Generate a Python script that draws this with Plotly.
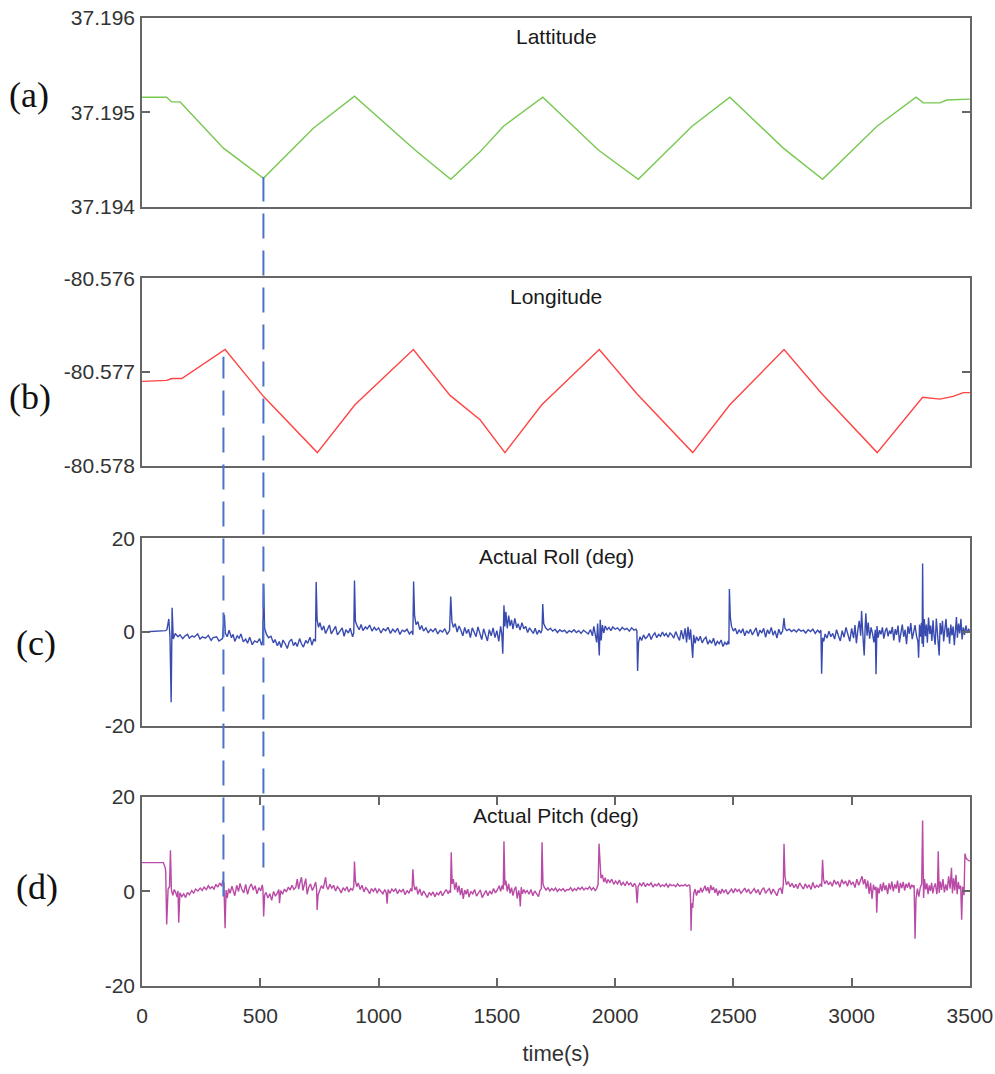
import plotly.graph_objects as go

# ---------------- data ----------------
lat_t = [0, 104, 125, 161, 344, 513, 724, 898, 1154, 1305, 1429, 1527, 1694, 1929, 2098,
         2324, 2485, 2711, 2877, 3106, 3272, 3303, 3373, 3402, 3500]
lat_v = [37.19516, 37.19516, 37.19511, 37.19511, 37.19462, 37.19430, 37.19483, 37.19517,
         37.19460, 37.19429, 37.19458, 37.19485, 37.19516, 37.19460, 37.19429, 37.19485,
         37.19516, 37.19462, 37.19429, 37.19485, 37.19516, 37.19510, 37.19510, 37.19513,
         37.19514]

lon_t = [0, 104, 125, 168, 351, 513, 741, 900, 1147, 1302, 1429, 1534, 1690, 1933, 2091,
         2328, 2485, 2714, 2873, 3108, 3300, 3373, 3429, 3472, 3500]
lon_v = [-80.57710, -80.57709, -80.57707, -80.57707, -80.57676, -80.57726, -80.57786,
         -80.57735, -80.57676, -80.57725, -80.57751, -80.57786, -80.57735, -80.57676,
         -80.57723, -80.57786, -80.57735, -80.57676, -80.57723, -80.57786, -80.57727,
         -80.57729, -80.57726, -80.57722, -80.57722]

# (time, roll deg) samples
roll_pts = [
    (0, 0.0), (100, 0.3), (105, 0.5), (113, 2.8), (118, -1.0), (123, -15.0), (127, 5.2),
    (132, -1.5), (140, -0.3), (152, -1.0), (160, -0.6), (172, -1.4), (180, -0.9), (192, -0.5),
    (200, -1.3), (212, -0.8), (220, -1.1), (235, -0.4), (245, -1.5), (255, -1.0), (268, -1.3),
    (280, -0.7), (292, -1.8), (300, -1.2), (315, -1.0), (325, -1.9), (340, -1.4), (348, 3.7),
    (352, -0.2), (360, -1.0), (368, 0.4), (378, -1.2), (385, -0.5), (392, -2.0), (402, -0.8),
    (410, -1.3), (418, -0.4), (428, -2.1), (438, -1.5), (446, -2.4), (455, -1.1), (466, -2.7),
    (476, -1.9), (487, -2.2), (497, -1.4), (505, -2.8), (510, -2.0), (514, 10.2), (518, 0.8),
    (526, -0.5), (535, -1.2), (545, -0.9), (555, -2.3), (562, -1.6), (572, -2.9), (580, -2.0),
    (588, -3.3), (596, -1.7), (606, -2.6), (614, -3.5), (622, -2.1), (632, -1.5), (640, -2.9),
    (648, -2.2), (656, -3.1), (666, -1.4), (674, -2.5), (682, -3.2), (692, -1.8), (700, -2.4),
    (710, -1.1), (718, -2.8), (726, -1.5), (733, -2.0), (736, 10.7), (740, 2.6), (746, 1.0),
    (752, 2.0), (760, 0.4), (768, 1.3), (776, -0.3), (784, 0.8), (792, 1.5), (800, -0.4),
    (810, 0.6), (818, 1.2), (826, -0.6), (836, 0.2), (846, 0.9), (854, -0.9), (862, 0.5),
    (872, -0.2), (880, 0.8), (890, -1.0), (895, -0.2), (898, 11.0), (902, 2.3), (910, 1.2),
    (918, 0.5), (926, 1.6), (934, 0.3), (944, 1.1), (952, 0.7), (962, 1.5), (972, 0.2),
    (982, 1.0), (990, 0.4), (1000, 0.9), (1010, -0.2), (1020, 0.7), (1030, 0.3), (1040, 1.0),
    (1050, -0.3), (1060, 0.6), (1070, 0.0), (1080, 0.8), (1090, -0.5), (1100, 0.4), (1110, 0.1),
    (1120, 0.6), (1130, -0.4), (1140, 0.2), (1145, -0.6), (1148, 10.8), (1152, 3.6), (1158, 1.6),
    (1166, 2.2), (1174, 0.5), (1182, 1.4), (1190, 0.2), (1200, 0.9), (1210, -0.2), (1220, 0.6),
    (1230, 0.1), (1240, 0.8), (1250, -0.4), (1260, 0.4), (1270, 0.0), (1280, 0.7), (1290, -0.5),
    (1300, 0.3), (1305, 7.6), (1310, 2.2), (1316, 1.0), (1324, 1.8), (1332, 0.0), (1340, 1.3),
    (1348, 0.4), (1356, -0.8), (1364, 1.0), (1372, -0.3), (1380, 0.6), (1388, -1.2), (1396, 0.9),
    (1404, 0.0), (1412, -1.0), (1420, 1.1), (1428, -0.5), (1436, -1.6), (1444, 0.7), (1452, -0.4),
    (1460, -1.9), (1468, 0.5), (1476, -0.8), (1484, 0.9), (1492, -1.2), (1500, 0.3), (1508, -2.0),
    (1516, 1.2), (1521, -0.5), (1525, -4.6), (1530, 5.7), (1534, 1.2), (1538, 4.3), (1544, 0.8),
    (1550, 3.5), (1556, 1.3), (1562, 2.6), (1568, 0.6), (1576, 2.9), (1584, 0.9), (1590, 1.8),
    (1598, 0.4), (1606, 2.0), (1614, 0.7), (1622, 1.2), (1630, -0.1), (1638, 0.9), (1646, 0.3),
    (1654, -0.3), (1662, 0.8), (1670, -0.5), (1678, 0.4), (1686, -0.2), (1691, 0.5), (1694, 6.0),
    (1698, 1.8), (1706, 0.9), (1716, 0.4), (1726, 0.8), (1736, 0.2), (1746, 0.6), (1756, -0.1),
    (1766, 0.5), (1776, 0.1), (1786, 0.4), (1796, -0.2), (1806, 0.3), (1816, 0.0), (1826, 0.5),
    (1836, -0.1), (1846, 0.3), (1856, -0.3), (1866, 0.4), (1876, 0.0), (1886, -0.4), (1896, 0.5),
    (1904, -0.8), (1910, 1.2), (1916, -0.6), (1922, -2.2), (1926, 1.8), (1930, -1.0),
    (1933, -5.0), (1937, 2.6), (1941, -1.8), (1946, 1.5), (1952, -0.2), (1958, 1.3), (1966, 0.5),
    (1974, 1.0), (1982, 0.3), (1990, 1.1), (2000, 0.6), (2010, 0.9), (2020, 0.3), (2030, 1.0),
    (2040, 0.5), (2050, 0.8), (2060, 0.2), (2070, 0.9), (2080, 0.4), (2088, 0.6), (2092, 0.2),
    (2095, -8.3), (2099, -2.2), (2105, -1.0), (2112, -1.8), (2120, -0.6), (2128, -1.4),
    (2136, -1.0), (2144, -0.3), (2152, -1.6), (2160, -0.7), (2168, -0.2), (2176, -1.2),
    (2184, -0.5), (2192, -0.9), (2200, 0.0), (2208, -0.8), (2216, -0.3), (2224, -1.1),
    (2232, -0.2), (2240, -0.6), (2248, -1.3), (2256, 0.1), (2264, -0.9), (2272, -1.8),
    (2280, 0.4), (2288, -1.5), (2296, 0.8), (2302, -2.2), (2308, 1.1), (2314, -1.6), (2319, 0.6),
    (2324, -2.0), (2328, -5.5), (2332, -0.6), (2338, -2.4), (2344, -1.0), (2352, -1.9),
    (2360, -0.9), (2368, -2.3), (2376, -1.5), (2384, -1.1), (2392, -2.6), (2400, -1.8),
    (2408, -2.4), (2416, -1.3), (2424, -2.9), (2432, -2.0), (2440, -2.5), (2448, -1.7),
    (2456, -3.1), (2464, -2.2), (2472, -2.7), (2478, -1.9), (2481, -2.6), (2483, 9.2),
    (2487, 3.2), (2492, 1.2), (2500, 0.2), (2508, 0.8), (2516, -0.4), (2524, 0.5), (2532, -0.2),
    (2540, 0.7), (2548, -0.8), (2556, 0.3), (2564, -0.3), (2572, 0.6), (2580, -0.6), (2588, 0.2),
    (2596, 0.9), (2604, -0.9), (2612, 0.4), (2620, -0.2), (2628, 0.8), (2636, -1.1), (2644, 0.5),
    (2652, -0.4), (2660, 1.0), (2668, -0.7), (2676, 0.3), (2684, -1.3), (2692, 0.6), (2700, -0.5),
    (2708, 0.2), (2714, 3.0), (2718, 0.8), (2726, 0.3), (2736, 0.6), (2746, 0.1), (2756, 0.5),
    (2766, 0.0), (2776, 0.6), (2786, 0.2), (2796, 0.4), (2806, -0.2), (2816, 0.5), (2826, 0.1),
    (2836, 0.6), (2846, -0.3), (2856, 0.4), (2864, -0.1), (2870, 0.4), (2873, -8.9), (2877, -1.2),
    (2882, -2.0), (2888, -0.4), (2896, -1.3), (2904, 0.2), (2912, -1.0), (2920, -0.3),
    (2928, -1.5), (2936, 0.5), (2944, -0.8), (2952, -1.9), (2960, 0.3), (2968, -1.1), (2976, 1.0),
    (2984, -0.6), (2992, -2.0), (3000, 0.8), (3008, -1.3), (3014, 1.5), (3020, -2.4), (3026, 0.4),
    (3032, 2.4), (3038, -0.8), (3042, 4.5), (3046, 0.5), (3050, -2.2), (3053, -5.0), (3057, 1.0),
    (3060, 4.0), (3065, -0.8), (3070, 2.0), (3076, -1.4), (3082, 1.0), (3088, -0.3), (3094, -2.2),
    (3100, 0.5), (3103, -9.0), (3107, 1.3), (3112, -1.2), (3118, 0.4), (3124, -0.5), (3130, 1.0),
    (3136, -1.4), (3142, 0.2), (3148, 0.9), (3154, -0.9), (3160, 0.3), (3166, -0.4), (3172, 1.1),
    (3178, -1.8), (3184, 0.6), (3190, -0.6), (3196, 1.4), (3202, -2.2), (3208, 0.2), (3214, 1.6),
    (3220, -1.0), (3226, 0.5), (3232, -2.6), (3238, 1.2), (3244, -0.4), (3250, 1.9), (3256, -1.5),
    (3262, 0.3), (3268, 1.5), (3274, -0.8), (3280, -2.0), (3283, -5.5), (3287, 1.6), (3291, -1.0),
    (3295, 2.0), (3298, -2.5), (3300, 14.6), (3303, -3.2), (3307, 2.8), (3312, -0.9), (3316, 1.6),
    (3320, -2.3), (3325, 3.1), (3330, -0.4), (3334, 1.4), (3339, -1.9), (3344, 2.5), (3348, -0.6),
    (3353, -2.7), (3358, 2.9), (3362, 0.2), (3366, -1.4), (3370, -5.0), (3374, 1.9), (3379, -0.5),
    (3384, 2.4), (3389, -2.0), (3394, 0.6), (3399, 2.8), (3404, -1.1), (3409, 0.9), (3414, -2.5),
    (3419, 1.6), (3424, -0.7), (3429, 1.2), (3434, -2.8), (3439, 0.5), (3443, 3.2), (3447, -1.2),
    (3452, 1.8), (3457, -0.3), (3462, 2.8), (3467, -1.6), (3472, 1.0), (3477, -0.6), (3483, 1.4),
    (3489, -0.2), (3495, 0.6), (3500, 0.3),
]

# (time, pitch deg) samples
pitch_pts = [
    (0, 6.1), (90, 6.1), (98, 5.0), (100, 4.2), (104, -7.0), (110, 0.5), (116, 1.0), (120, 8.7),
    (124, 0.3), (130, -0.8), (136, 0.4), (142, -0.2), (148, -1.2), (152, 0.1), (155, -6.6),
    (160, -0.3), (168, -1.1), (176, -0.5), (184, -1.3), (192, -0.2), (200, -0.7), (210, 0.2),
    (218, -0.4), (226, 0.5), (236, 0.1), (246, 0.7), (254, 0.2), (262, 0.9), (272, 0.4),
    (280, 1.2), (288, 0.6), (296, 1.0), (304, 0.5), (312, 1.5), (320, 0.9), (328, 1.8),
    (336, 1.1), (342, 2.4), (346, 1.6), (351, -7.8), (355, 0.3), (360, -1.4), (366, 0.6),
    (372, -0.4), (380, 1.1), (386, 0.2), (392, -0.9), (400, 1.3), (408, 0.0), (414, 1.7),
    (422, 0.4), (430, -0.3), (438, 1.5), (446, -0.6), (454, 0.9), (462, 1.6), (470, 0.3),
    (478, 1.2), (486, -0.5), (494, 0.8), (502, 0.1), (508, 1.4), (511, 0.5), (514, -5.3),
    (518, -0.8), (524, -0.2), (532, -1.4), (540, -0.5), (548, -1.9), (556, 0.0), (564, -1.0),
    (572, -0.3), (578, 0.4), (581, -2.5), (586, 0.2), (594, -0.6), (602, 0.5), (610, -0.1),
    (618, 0.9), (626, 0.3), (634, 1.3), (642, 0.4), (650, 0.9), (656, 2.6), (662, 0.5),
    (668, 1.9), (674, 3.0), (680, 0.2), (686, 1.4), (692, 2.7), (698, -0.6), (704, 0.8),
    (712, 1.6), (720, 0.2), (728, 1.1), (734, 2.0), (738, 0.4), (740, -3.9), (744, -0.8),
    (750, 0.3), (758, 1.2), (766, 0.6), (772, 2.2), (776, 3.0), (780, 1.1), (786, 0.4),
    (794, 1.5), (802, 0.7), (810, 1.3), (818, 0.1), (826, 1.0), (834, 0.5), (842, -0.3),
    (850, 0.8), (858, 0.2), (866, 1.0), (874, -0.1), (882, 0.6), (890, 0.3), (895, 1.0),
    (898, 6.3), (902, 2.2), (908, 1.0), (914, 1.8), (922, 0.4), (930, 1.3), (938, -0.1),
    (946, 0.8), (954, 0.3), (962, -0.5), (970, 0.6), (978, 0.0), (986, 0.7), (994, -0.4),
    (1002, 0.5), (1010, 0.1), (1018, -0.5), (1026, 0.4), (1032, -0.2), (1036, -2.6), (1040, 0.4),
    (1048, -0.4), (1056, 0.5), (1064, 0.0), (1072, 0.6), (1080, -0.5), (1088, 0.3), (1096, -0.1),
    (1104, 0.5), (1112, -0.7), (1120, 0.2), (1128, -0.4), (1136, 0.6), (1141, 0.0), (1145, 4.7),
    (1149, 1.4), (1154, 0.3), (1160, 1.0), (1166, -0.6), (1174, 0.5), (1182, -0.9), (1190, 0.1),
    (1198, -0.6), (1206, -1.3), (1214, -0.2), (1222, -0.8), (1230, -0.1), (1238, -1.1),
    (1246, -0.3), (1254, -0.7), (1262, 0.1), (1270, -0.9), (1278, -0.2), (1286, 0.4),
    (1294, -0.5), (1300, 0.2), (1304, -0.3), (1307, 8.3), (1311, 1.6), (1316, 2.6), (1322, 0.4),
    (1328, 1.9), (1334, -0.2), (1340, 1.2), (1346, -0.8), (1352, 0.7), (1358, -1.6), (1364, 0.3),
    (1370, -0.6), (1376, 0.5), (1382, -1.2), (1390, 0.0), (1398, -0.5), (1406, 0.4), (1414, -1.0),
    (1422, -0.2), (1430, 0.3), (1438, -1.3), (1446, -0.4), (1454, 0.2), (1462, -0.9), (1470, 0.1),
    (1478, -0.6), (1486, 0.6), (1494, -0.3), (1502, 0.3), (1510, 1.2), (1516, 0.0), (1522, 1.3),
    (1527, 0.4), (1530, 10.6), (1534, 1.3), (1538, 2.3), (1544, 0.0), (1550, 1.6), (1556, -0.4),
    (1562, 0.8), (1568, -0.9), (1574, 0.4), (1580, 1.0), (1586, -1.5), (1592, 0.2), (1596, -0.8),
    (1599, -3.2), (1603, 0.9), (1608, -0.5), (1614, 0.4), (1620, -0.3), (1628, 0.2), (1636, -0.6),
    (1644, 0.4), (1652, -0.9), (1660, 0.1), (1668, -0.4), (1676, -1.1), (1682, 0.2), (1688, 0.6),
    (1691, 10.4), (1695, 1.6), (1700, 0.9), (1708, 0.3), (1716, 0.8), (1724, 0.1), (1732, 0.6),
    (1740, 0.2), (1748, 0.7), (1756, 0.0), (1764, 0.5), (1772, 0.2), (1780, 0.6), (1788, 0.0),
    (1796, 0.4), (1804, 0.3), (1812, 0.8), (1820, 0.1), (1828, 0.6), (1836, 0.2), (1844, 0.8),
    (1852, 0.4), (1860, 0.9), (1868, 0.3), (1876, 0.7), (1884, 0.5), (1892, 1.0), (1900, 0.3),
    (1908, 0.8), (1916, 0.2), (1922, 0.6), (1928, 1.5), (1932, 10.1), (1936, 4.6), (1940, 2.8),
    (1946, 3.5), (1952, 2.0), (1958, 2.9), (1964, 1.7), (1970, 2.5), (1978, 1.9), (1986, 2.6),
    (1994, 1.5), (2002, 2.2), (2010, 1.6), (2018, 2.4), (2026, 1.3), (2034, 1.9), (2042, 1.2),
    (2050, 2.1), (2058, 1.4), (2066, 1.8), (2074, 1.0), (2082, 1.7), (2088, 1.1), (2093, -2.5),
    (2097, 1.0), (2104, 1.7), (2112, 1.2), (2120, 1.9), (2128, 1.0), (2136, 1.6), (2144, 1.3),
    (2152, 1.8), (2160, 0.9), (2168, 1.5), (2176, 1.2), (2184, 1.7), (2192, 1.0), (2200, 1.4),
    (2208, 1.1), (2216, 1.6), (2224, 0.9), (2232, 1.5), (2240, 1.2), (2248, 1.4), (2256, 1.0),
    (2264, 1.6), (2272, 1.1), (2280, 1.3), (2288, 1.2), (2296, 1.5), (2304, 1.1), (2312, 1.4),
    (2316, 1.2), (2319, -2.0), (2321, -8.3), (2324, -2.5), (2328, -3.5), (2332, -0.5),
    (2338, 0.5), (2344, -0.9), (2350, 0.2), (2356, -0.3), (2362, 0.8), (2368, -0.2), (2374, 0.4),
    (2380, 1.2), (2386, 0.1), (2392, 0.9), (2398, -0.4), (2404, 1.3), (2410, 0.3), (2416, 0.9),
    (2422, -0.3), (2428, 0.6), (2434, -0.9), (2440, 0.2), (2446, -0.5), (2452, 0.5), (2460, -0.2),
    (2468, 0.4), (2476, -0.6), (2484, 0.1), (2492, 0.5), (2500, -0.3), (2508, 0.6), (2516, 0.0),
    (2524, 0.4), (2532, -0.4), (2540, 0.3), (2548, 0.7), (2556, -0.2), (2564, 0.5), (2572, -0.5),
    (2580, 0.2), (2588, 0.6), (2596, -0.3), (2604, 0.4), (2612, -0.7), (2620, 0.3), (2628, 0.8),
    (2636, -0.4), (2644, 0.2), (2652, 0.6), (2660, -0.6), (2668, 0.5), (2676, -0.2), (2684, -0.9),
    (2692, 0.4), (2700, 0.7), (2706, -0.5), (2711, 1.5), (2714, 10.1), (2718, 3.2), (2724, 1.4),
    (2732, 2.1), (2740, 1.0), (2748, 1.7), (2756, 0.8), (2764, 1.5), (2772, 0.6), (2780, 1.8),
    (2788, 1.1), (2796, 0.5), (2804, 1.6), (2812, 0.8), (2820, 1.4), (2828, 0.4), (2836, 1.9),
    (2844, 0.7), (2852, 1.3), (2860, 0.9), (2868, 1.6), (2873, 1.0), (2877, 6.7), (2881, 2.6),
    (2886, 1.6), (2894, 2.3), (2902, 1.4), (2910, 2.0), (2918, 1.1), (2926, 2.4), (2934, 1.5),
    (2942, 2.1), (2950, 0.9), (2958, 2.5), (2966, 1.6), (2974, 2.2), (2982, 1.1), (2990, 2.4),
    (2998, 1.5), (3006, 2.0), (3014, 0.8), (3022, 2.6), (3030, 1.3), (3038, 2.2), (3044, 3.2),
    (3050, 1.5), (3056, 2.6), (3062, 0.6), (3068, 2.3), (3074, -0.5), (3080, 1.8), (3086, -1.6),
    (3092, 1.4), (3098, 0.3), (3103, 1.0), (3106, -4.5), (3110, 0.8), (3116, -0.4), (3122, 1.6),
    (3128, 0.0), (3134, 1.9), (3140, 0.3), (3146, 1.3), (3152, -0.6), (3158, 1.7), (3164, 0.4),
    (3170, 2.1), (3176, 0.0), (3182, 1.5), (3188, 0.6), (3194, 2.3), (3200, -0.3), (3206, 1.8),
    (3212, 0.7), (3218, 2.0), (3224, 0.2), (3230, 1.6), (3236, 0.8), (3242, 1.9), (3248, 0.5),
    (3254, 1.4), (3260, 1.0), (3264, 1.3), (3268, -10.0), (3272, -1.6), (3278, 0.6),
    (3284, -1.1), (3290, 0.8), (3296, 1.6), (3300, 15.0), (3304, -1.4), (3308, 2.6), (3313, 0.4),
    (3318, 1.7), (3323, -0.6), (3328, 1.3), (3333, 0.1), (3338, 1.8), (3343, -0.4), (3348, 0.9),
    (3354, 1.7), (3360, -0.6), (3363, 0.8), (3366, 8.5), (3370, -0.3), (3375, 2.1), (3380, 0.3),
    (3386, 2.6), (3392, -0.2), (3398, 1.5), (3404, 0.2), (3410, 3.2), (3416, 0.6), (3422, 5.0),
    (3426, -0.4), (3431, 2.8), (3436, 0.2), (3441, 3.5), (3446, -0.6), (3451, 2.0), (3456, 0.5),
    (3461, 1.2), (3465, -6.0), (3469, 1.0), (3475, -0.8), (3479, 8.0), (3484, 7.0), (3490, 6.7),
    (3496, 6.5), (3500, 6.4),
]
roll_t = [p[0] for p in roll_pts]
roll_v = [p[1] for p in roll_pts]
pitch_t = [p[0] for p in pitch_pts]
pitch_v = [p[1] for p in pitch_pts]

x_ticks = [0, 500, 1000, 1500, 2000, 2500, 3000, 3500]
lat_ticks = [37.194, 37.195, 37.196]
lat_ticktext = ["37.194", "37.195", "37.196"]
lon_ticks = [-80.578, -80.577, -80.576]
lon_ticktext = ["-80.578", "-80.577", "-80.576"]
deg_ticks = [-20, 0, 20]
deg_ticktext = ["-20", "0", "20"]

panel_titles = ["Lattitude", "Longitude", "Actual Roll (deg)", "Actual Pitch (deg)"]
panel_labels = ["(a)", "(b)", "(c)", "(d)"]
marker_times = [513, 344]  # dashed reference lines

# ---------------- figure ----------------
domains = [[0.8052, 1.0], [0.5375, 0.7312], [0.2688, 0.4625], [0.0, 0.1954]]
label_pos = [(-0.137, 0.9205), (-0.135, 0.6085), (-0.128, 0.3543), (-0.127, 0.1023)]

fig = go.Figure()
series = [(lat_t, lat_v, "#77c850"), (lon_t, lon_v, "#ff4444"),
          (roll_t, roll_v, "#3a4bb0"), (pitch_t, pitch_v, "#b94aa6")]
for i, (t, v, c) in enumerate(series):
    k = "" if i == 0 else str(i + 1)
    fig.add_trace(go.Scatter(x=t, y=v, mode="lines", line=dict(color=c, width=1.4),
                             xaxis="x" + k, yaxis="y" + k, showlegend=False))

FAM = "Liberation Sans, Arial, sans-serif"
TICKFONT = dict(family=FAM, size=21, color="#333333")
axis_common = dict(showline=True, linecolor="#666666", linewidth=1.5, mirror=True,
                   showgrid=False, zeroline=False, automargin=False)

yranges = [[37.194, 37.196], [-80.578, -80.576], [-20, 20], [-20, 20]]
yticks = [(lat_ticks, lat_ticktext), (lon_ticks, lon_ticktext),
          (deg_ticks, deg_ticktext), (deg_ticks, deg_ticktext)]
layout = {}
for i in range(4):
    k = "" if i == 0 else str(i + 1)
    xa = dict(axis_common, domain=[0, 1], range=[-0.3, 3500.3], anchor="y" + k)
    if i == 3:
        xa.update(ticks="inside", ticklen=8, tickwidth=1.5, tickcolor="#666666",
                  mirror="ticks", tickmode="array", tickvals=x_ticks,
                  ticktext=[str(v) for v in x_ticks], tickfont=TICKFONT,
                  ticklabelstandoff=10,
                  title=dict(text="time(s)", font=dict(family=FAM, size=22, color="#333333"),
                             standoff=20))
    else:
        xa.update(showticklabels=False, ticks="")
    layout["xaxis" + k] = xa
    ya = dict(axis_common, domain=domains[i], range=yranges[i], anchor="x" + k,
              ticks="inside", ticklen=8, tickwidth=1.5, tickcolor="#666666", mirror="ticks",
              tickmode="array", tickvals=yticks[i][0], ticktext=yticks[i][1],
              tickfont=TICKFONT, ticklabelstandoff=1)
    layout["yaxis" + k] = ya

fig.update_layout(**layout)

annotations = []
for i in range(4):
    k = "" if i == 0 else str(i + 1)
    annotations.append(dict(text=panel_titles[i], xref="x" + k + " domain",
                            yref="y" + k + " domain",
                            x=0.5, y=1, xanchor="center", yanchor="top", yshift=-5,
                            showarrow=False,
                            font=dict(family=FAM, size=21, color="#1a1a1a")))
    annotations.append(dict(text=panel_labels[i], xref="paper", yref="paper",
                            x=label_pos[i][0], y=label_pos[i][1], xanchor="center",
                            yanchor="middle", showarrow=False,
                            font=dict(family="Liberation Serif, Times New Roman, serif",
                                      size=36, color="#111111")))

# dashed reference lines (x in data units, vertical extent in paper units)
shapes = [
    dict(type="line", xref="x4", yref="paper", x0=marker_times[0], x1=marker_times[0],
         y0=0.1225, y1=0.8355, line=dict(color="#4a72c8", width=2, dash="25px,12px")),
    dict(type="line", xref="x4", yref="paper", x0=marker_times[1], x1=marker_times[1],
         y0=0.0925, y1=0.650, line=dict(color="#4a72c8", width=2, dash="25px,12px")),
]

fig.update_layout(width=995, height=1074, margin=dict(l=142, r=25, t=18, b=88),
                  paper_bgcolor="white", plot_bgcolor="white",
                  annotations=annotations, shapes=shapes)

fig.write_html("out.html")
